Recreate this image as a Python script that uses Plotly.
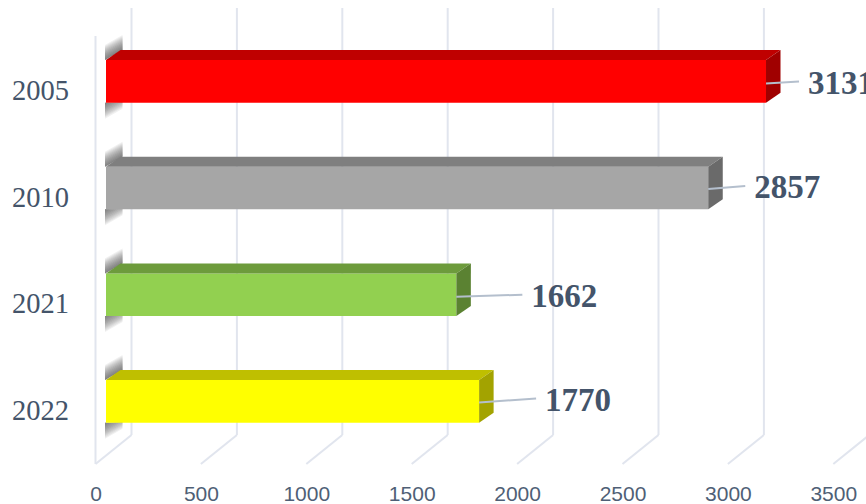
import plotly.graph_objects as go

categories = ["2005", "2010", "2021", "2022"]
values = [3131, 2857, 1662, 1770]
front_colors = ["#ff0000", "#a6a6a6", "#92d050", "#ffff00"]
top_colors = ["#bf0000", "#7f7f7f", "#6d9b3c", "#bfbf00"]
side_colors = ["#a00000", "#6a6a6a", "#5b8232", "#a3a300"]
x_ticks = [0, 500, 1000, 1500, 2000, 2500, 3000, 3500]
TEXT = "#44546a"
GRID = "#e1e5ee"

W, H = 866, 504
PX_PER_UNIT = 0.2108
X0_PX = 106.0
ROW_PX = 106.67
Y0_PX = 81.4


def vx(px):
    return (px - X0_PX) / PX_PER_UNIT


def vy(py):
    return (py - Y0_PX) / ROW_PX


dx = 14.5 / PX_PER_UNIT
dy = 10.0 / ROW_PX
half = 21.3 / ROW_PX
positions = list(range(len(categories)))

fig = go.Figure()

fig.add_trace(go.Bar(
    y=positions, x=values, orientation="h", width=2 * half,
    marker=dict(color=front_colors, line=dict(width=0)), hoverinfo="skip",
))

for p, v, tc, sc in zip(positions, values, top_colors, side_colors):
    fig.add_trace(go.Scatter(
        x=[0, v, v + dx, dx, 0], y=[p - half, p - half, p - half - dy, p - half - dy, p - half],
        mode="lines", fill="toself", fillcolor=tc, line=dict(width=0), hoverinfo="skip"))
    fig.add_trace(go.Scatter(
        x=[v, v + dx, v + dx, v, v], y=[p - half, p - half - dy, p + half - dy, p + half, p - half],
        mode="lines", fill="toself", fillcolor=sc, line=dict(width=0), hoverinfo="skip"))

label_dx_start = [33, 37, 66, 57]
label_dy_end = [-2, -3, -2, -4]
label_dy_start = [2, 1, 2, 1]
for p, v, ldx, de, ds in zip(positions, values, label_dx_start, label_dy_end, label_dy_start):
    fig.add_trace(go.Scatter(
        x=[v, v + ldx / PX_PER_UNIT],
        y=[p + ds / ROW_PX, p + (ds + de) / ROW_PX],
        mode="lines", line=dict(color="#b4bfcd", width=2), hoverinfo="skip"))
    fig.add_trace(go.Scatter(
        x=[v + (ldx + 9) / PX_PER_UNIT], y=[p + (ds + de + 4) / ROW_PX],
        mode="text", text=[str(v)], textposition="middle right", cliponaxis=False,
        textfont=dict(family="Liberation Serif", size=33, color=TEXT, weight="bold"),
        hoverinfo="skip"))

fig.add_trace(go.Scatter(x=x_ticks, y=[0] * len(x_ticks), xaxis="x2", yaxis="y2",
                         mode="markers", marker=dict(opacity=0), hoverinfo="skip"))

shapes = []


def seg(x0, y0, x1, y1):
    shapes.append(dict(type="line", layer="below", xref="x", yref="y",
                       x0=x0, y0=vy(y0), x1=x1, y1=vy(y1),
                       line=dict(color=GRID, width=2)))


front_off = vx(95.5)
back_off = vx(131.5)
for t in x_ticks:
    seg(t + back_off, 8, t + back_off, 435)
    seg(t + back_off, 435, t + front_off, 464)
seg(front_off, 36, front_off, 464)

STEPS = 12
for p in positions:
    for k in range(STEPS):
        f = (k + 1) / STEPS
        a = 0.08
        xl, xr = -1 / PX_PER_UNIT, 16.5 / PX_PER_UNIT
        base_l = p - half
        base_r = p - half - dy
        rise = f * 15 / ROW_PX
        path = (f"M {xl} {base_l} L {xl} {base_l - rise} "
                f"L {xr} {base_r - rise} L {xr} {base_r} Z")
        shapes.append(dict(type="path", path=path, layer="below", xref="x", yref="y",
                           fillcolor=f"rgba(70,70,70,{a})", line=dict(width=0)))
        base = p + half
        drop = f * 16 / ROW_PX
        path = (f"M {xl} {base} L {xr} {base} L {xr} {base - dy + drop} "
                f"L {xl} {base + drop} Z")
        shapes.append(dict(type="path", path=path, layer="below", xref="x", yref="y",
                           fillcolor=f"rgba(70,70,70,{a})", line=dict(width=0)))

fig.update_layout(
    width=W, height=H, margin=dict(l=0, r=0, t=0, b=0),
    paper_bgcolor="white", plot_bgcolor="white", showlegend=False, shapes=shapes,
    xaxis=dict(domain=[0, 1], range=[vx(0), vx(W)], visible=False, fixedrange=True, automargin=False),
    yaxis=dict(domain=[0, 1], range=[vy(H), vy(0)], visible=False, fixedrange=True, automargin=False),
    xaxis2=dict(
        overlaying="x", anchor="free", position=1 - 479 / H, side="bottom", automargin=False,
        range=[-96.0 / PX_PER_UNIT, (W - 96.0) / PX_PER_UNIT],
        tickmode="array", tickvals=x_ticks, ticktext=[str(t) for t in x_ticks],
        ticks="", showgrid=False, zeroline=False, showline=False,
        tickfont=dict(family="Liberation Sans", size=21, color="#4f5f76"),
    ),
    yaxis2=dict(
        overlaying="y", anchor="free", position=69 / W, side="left", automargin=False,
        range=[(H - 90.0) / ROW_PX, -90.0 / ROW_PX],
        tickmode="array", tickvals=positions, ticktext=categories,
        ticks="", showgrid=False, zeroline=False, showline=False,
        tickfont=dict(family="Liberation Serif", size=28.5, color=TEXT),
    ),
)
fig.write_html("out.html", config={"displayModeBar": False},
               post_script="document.body.style.margin='0';document.body.style.overflow='hidden';")
